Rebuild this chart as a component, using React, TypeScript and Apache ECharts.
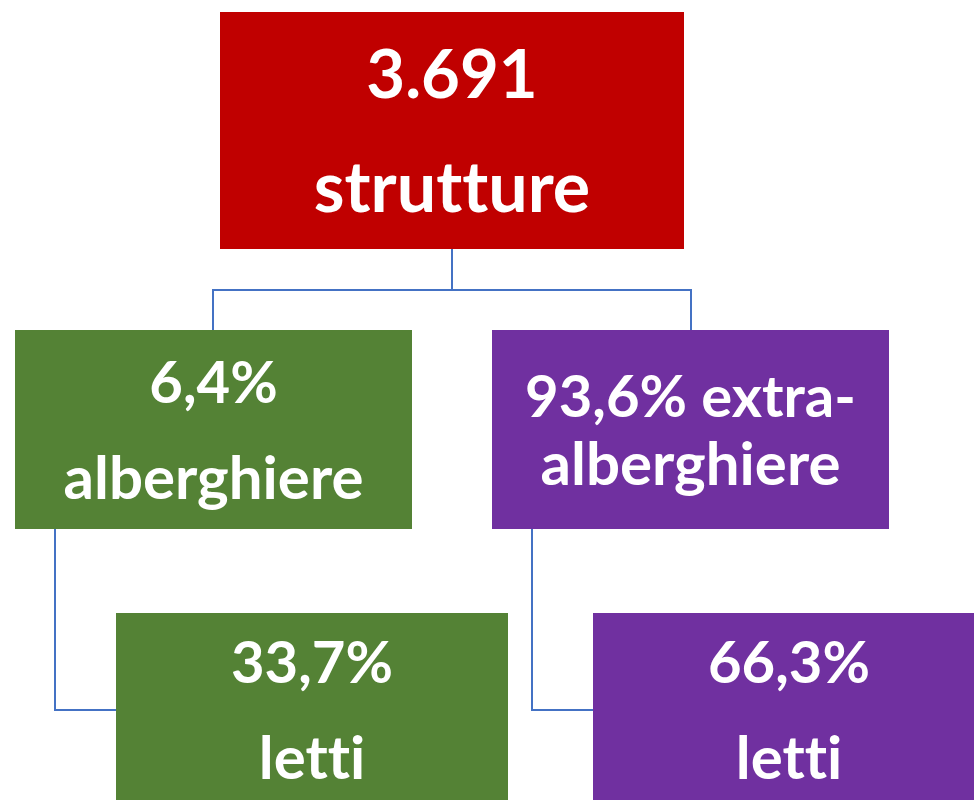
import React, { useEffect, useRef } from "react";
import * as echarts from "echarts";

// Node texts (line 1, line 2)
const nodeTitles = ["3.691", "6,4%", "93,6% extra-", "33,7%", "66,3%"];
const nodeSubtitles = ["strutture", "alberghiere", "alberghiere", "letti", "letti"];
const nodeNames = ["totale", "alberghiere", "extra-alberghiere", "letti alberghiere", "letti extra-alberghiere"];

// Layout (positions and styles only)
const boxes = [
  { x: 220, y: 12, w: 464, h: 237, color: "#C00000", f1: 67, f2: 70, y1: 72, y2: 185 },
  { x: 15, y: 330, w: 397, h: 199, color: "#548235", f1: 58, f2: 60, y1: 380, y2: 476 },
  { x: 492, y: 330, w: 397, h: 199, color: "#7030A0", f1: 58, f2: 60, y1: 394, y2: 462 },
  { x: 116, y: 613, w: 392, h: 200, color: "#548235", f1: 58, f2: 60, y1: 660, y2: 756 },
  { x: 593, y: 613, w: 392, h: 200, color: "#7030A0", f1: 58, f2: 60, y1: 660, y2: 756 },
];

const connectors: number[][][] = [
  [[452, 249], [452, 290]],
  [[213, 330], [213, 290], [691, 290], [691, 330]],
  [[55, 529], [55, 710], [116, 710]],
  [[532, 529], [532, 710], [593, 710]],
];

const LINE_COLOR = "#4472C4";
const FONT = "Lato, 'Open Sans', sans-serif";

export default function App() {
  const ref = useRef<HTMLDivElement>(null);
  useEffect(() => {
    document.body.style.margin = "0";
    if (!ref.current) return;
    const chart = echarts.init(ref.current, undefined, { renderer: "svg" });
    const elements: any[] = [];
    connectors.forEach((pts) => {
      elements.push({
        type: "polyline",
        shape: { points: pts },
        style: { stroke: LINE_COLOR, lineWidth: 2, fill: null },
        silent: true,
      });
    });
    boxes.forEach((b, i) => {
      elements.push({
        type: "rect",
        name: nodeNames[i],
        shape: { x: b.x, y: b.y, width: b.w, height: b.h },
        style: { fill: b.color },
      });
      const cx = b.x + b.w / 2;
      elements.push({
        type: "text",
        x: cx,
        y: b.y1,
        style: {
          text: nodeTitles[i],
          fill: "#FFFFFF",
          font: `bold ${b.f1}px ${FONT}`,
          textAlign: "center",
          textVerticalAlign: "middle",
        },
      });
      elements.push({
        type: "text",
        x: cx,
        y: b.y2,
        style: {
          text: nodeSubtitles[i],
          fill: "#FFFFFF",
          font: `bold ${b.f2}px ${FONT}`,
          textAlign: "center",
          textVerticalAlign: "middle",
        },
      });
    });
    chart.setOption({
      animation: false,
      backgroundColor: "#FFFFFF",
      graphic: { elements },
    });
    return () => chart.dispose();
  }, []);
  return (
    <>
      <style>{`svg text { font-variant-ligatures: none !important; font-feature-settings: "liga" 0, "clig" 0 !important; }`}</style>
      <div ref={ref} style={{ width: 974, height: 800 }} />
    </>
  );
}
